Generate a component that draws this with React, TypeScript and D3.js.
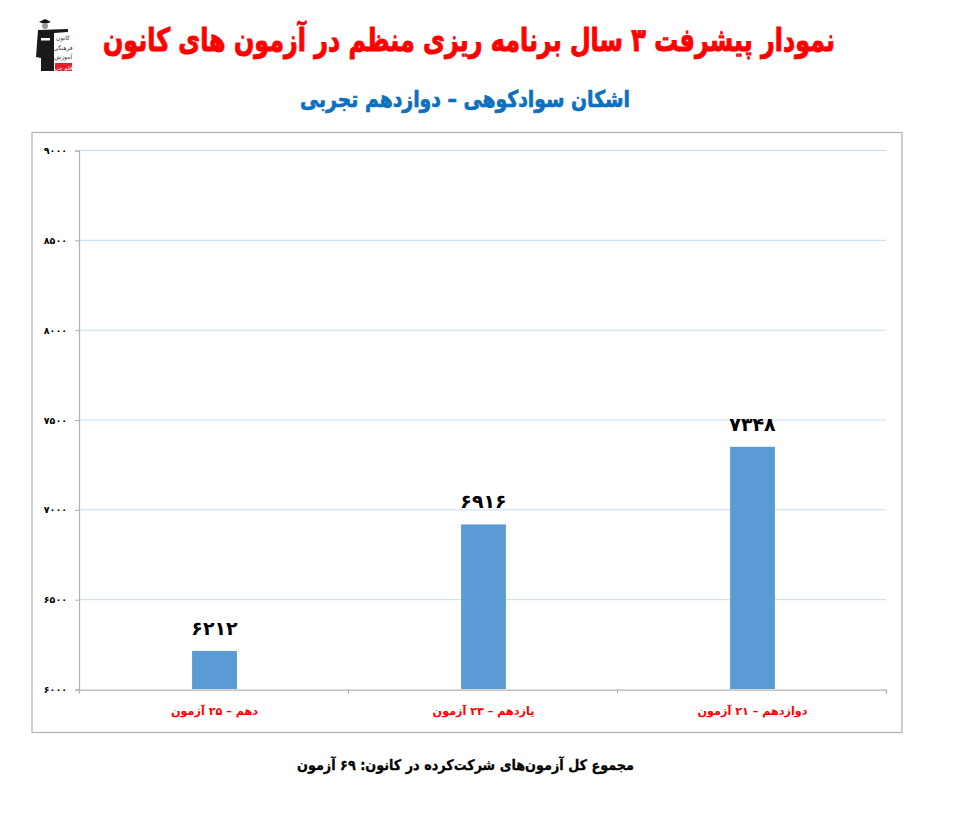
import { useEffect, useRef } from "react";
import * as d3 from "d3";

const grades = ["دهم – ۲۵ آزمون", "یازدهم – ۲۳ آزمون", "دوازدهم – ۲۱ آزمون"];
const ranks = [6212, 6916, 7348];
const yTicks = [6000, 6500, 7000, 7500, 8000, 8500, 9000];

const titleText = "نمودار پیشرفت ۳ سال برنامه ریزی منظم در آزمون های کانون";
const subtitleText = "اشکان سوادکوهی – دوازدهم تجربی";
const footerText = "مجموع کل آزمون‌های شرکت‌کرده در کانون: ۶۹ آزمون";
const logoLines = ["کانون", "فرهنگی", "آموزش"];
const logoBadge = "قلم چی";

const fontFamily = "'DejaVu Sans', sans-serif";
const toPersian = (n: number) => d3.format("d")(n).replace(/\d/g, (c) => "۰۱۲۳۴۵۶۷۸۹"[+c]);

export default function App() {
  const svgRef = useRef<SVGSVGElement>(null);

  useEffect(() => {
    if (!svgRef.current) return;
    const svg = d3.select(svgRef.current);
    svg.selectAll("*").remove();

    const left = 79, right = 886, top = 150, bottom = 689;

    const x = d3.scaleBand().domain(grades).range([left, right]);
    const y = d3.scaleLinear().domain([6000, 9000]).range([bottom, top]);
    const barWidth = x.bandwidth() / 6;

    // Titles
    const heading = (text: string, cx: number, cy: number, size: number, color: string, width: number, weight: number) =>
      svg.append("text")
        .attr("x", cx).attr("y", cy)
        .attr("text-anchor", "middle")
        .attr("direction", "rtl")
        .attr("font-family", fontFamily)
        .attr("font-weight", "bold")
        .attr("font-size", size)
        .attr("fill", color)
        .attr("stroke", color)
        .attr("stroke-width", weight)
        .attr("textLength", width)
        .attr("lengthAdjust", "spacingAndGlyphs")
        .text(text);

    heading(titleText, 469, 51, 32, "#ff0000", 732, 1);
    heading(subtitleText, 465, 107, 23, "#0e6fbe", 330, 0.7);
    heading(footerText, 465.5, 770, 14.5, "#000000", 337, 0.3);

    // Chart frame
    svg.append("rect")
      .attr("x", 32).attr("y", 132.5)
      .attr("width", 870).attr("height", 600)
      .attr("fill", "none")
      .attr("stroke", "#b3b3b3")
      .attr("stroke-width", 1.25);

    // Grid lines
    svg.append("g")
      .selectAll("line")
      .data(yTicks.slice(1))
      .join("line")
      .attr("x1", left).attr("x2", right)
      .attr("y1", (d) => y(d) + 0.5).attr("y2", (d) => y(d) + 0.5)
      .attr("stroke", "#c5ddf2");

    // Bars
    svg.append("g")
      .selectAll("rect")
      .data(ranks)
      .join("rect")
      .attr("x", (_, i) => x(grades[i])! + (x.bandwidth() - barWidth) / 2 + 1)
      .attr("y", (d) => y(d))
      .attr("width", barWidth)
      .attr("height", (d) => y(6000) - y(d))
      .attr("fill", "#5b9bd5");

    // Y axis
    const yAxis = svg.append("g")
      .attr("transform", `translate(${left},0.5)`)
      .call(d3.axisLeft(y).tickValues(yTicks).tickSize(4).tickPadding(9).tickFormat((d) => toPersian(+d)));
    yAxis.selectAll("path, line").attr("stroke", "#b3b3b3");
    yAxis.select("path").attr("stroke-width", 1.25);
    yAxis.selectAll("text")
      .attr("dx", 1)
      .attr("font-family", fontFamily)
      .attr("font-weight", "bold")
      .attr("font-size", 9.5)
      .attr("fill", "#000000");

    // X axis, ticks sit on the band edges
    const edges = [...grades.map((g) => x(g)!), right];
    const xAxis = svg.append("g")
      .attr("transform", `translate(0,${bottom + 0.5})`)
      .call(d3.axisBottom(d3.scaleLinear().domain([left, right]).range([left, right]))
        .tickValues(edges).tickSize(4).tickFormat(() => ""));
    xAxis.selectAll("path, line").attr("stroke", "#b3b3b3");
    xAxis.select("path").attr("stroke-width", 1.25);

    // Category labels
    svg.append("g")
      .selectAll("text")
      .data(grades)
      .join("text")
      .attr("x", (d) => x(d)! + x.bandwidth() / 2 + 1)
      .attr("y", 715)
      .attr("text-anchor", "middle")
      .attr("direction", "rtl")
      .attr("font-family", fontFamily)
      .attr("font-weight", "bold")
      .attr("font-size", 11.2)
      .attr("fill", "#ff0000")
      .text((d) => d);

    // Value labels
    svg.append("g")
      .selectAll("text")
      .data(ranks)
      .join("text")
      .attr("x", (_, i) => x(grades[i])! + x.bandwidth() / 2 + 1)
      .attr("y", (d) => y(d) - 16)
      .attr("text-anchor", "middle")
      .attr("font-family", fontFamily)
      .attr("font-weight", "bold")
      .attr("font-size", 19)
      .attr("fill", "#000000")
      .text((d) => toPersian(d));

    // Logo
    const logo = svg.append("g");
    logo.append("path")
      .attr("d", "M38,30 L68,29 L68,32 L54,33 L54,71 L41,71 L41,58 L36,57 Z")
      .attr("fill", "#1a1a1a");
    logo.append("path").attr("d", "M39,22 L45,19 L51,22 L45,24 Z").attr("fill", "#111111");
    logo.append("circle").attr("cx", 45).attr("cy", 26).attr("r", 3).attr("fill", "#9a9a9a");
    logo.append("rect").attr("x", 41).attr("y", 38).attr("width", 9).attr("height", 2.5).attr("fill", "#ffffff");
    logo.selectAll("text.line")
      .data(logoLines)
      .join("text")
      .attr("class", "line")
      .attr("x", 63)
      .attr("y", (_, i) => 40 + i * 9.5)
      .attr("text-anchor", "middle")
      .attr("font-family", fontFamily)
      .attr("font-size", 6)
      .attr("fill", "#333333")
      .text((d) => d);
    logo.append("rect").attr("x", 55).attr("y", 63).attr("width", 17).attr("height", 8).attr("fill", "#e0202a");
    logo.append("text")
      .attr("x", 63.5).attr("y", 69.5)
      .attr("text-anchor", "middle")
      .attr("font-family", fontFamily)
      .attr("font-size", 5.5)
      .attr("fill", "#ffffff")
      .text(logoBadge);
  }, []);

  return (
    <svg
      ref={svgRef}
      width={956}
      height={826}
      style={{ position: "absolute", left: 0, top: 0, background: "#ffffff" }}
    />
  );
}
